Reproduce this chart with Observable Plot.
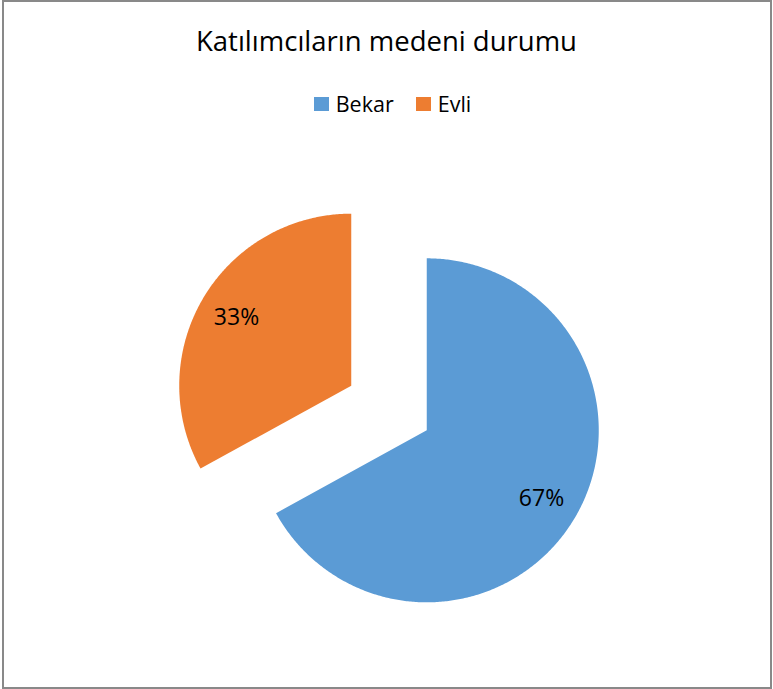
<!DOCTYPE html>
<html>
<head>
<meta charset="utf-8">
<script src="https://cdn.jsdelivr.net/npm/d3@7"></script>
<script src="https://cdn.jsdelivr.net/npm/@observablehq/plot@0.6"></script>
<style>
  html, body { margin: 0; padding: 0; background: #fff; }
  #chart { position: relative; width: 773px; height: 689px; font-family: "Open Sans", Lato, sans-serif; color: #000; }
  #frame { position: absolute; left: 2px; top: 0px; width: 770px; height: 689px; box-sizing: border-box; border: 2px solid #898989; pointer-events: none; }
  #title { position: absolute; left: 0; width: 773px; top: 27px; text-align: center; font-size: 27.5px; line-height: 27.5px; white-space: nowrap; }
  #legend { position: absolute; left: 6px; width: 773px; top: 93px; display: flex; justify-content: center; font-size: 21.5px; line-height: 21.5px; }
  .item { display: flex; align-items: center; margin: 0 11px; }
  .sw { width: 15px; height: 14px; margin-right: 7px; }
  svg { position: absolute; left: 0; top: 0; }
</style>
</head>
<body>
<div id="chart">
  <div id="title"></div>
  <div id="legend"></div>
  <div id="frame"></div>
</div>
<script>
// ---- data ----
const titleText = "Katılımcıların medeni durumu";
const categories = ["Bekar", "Evli"];
const values = [67, 33];
const colors = ["#5B9BD5", "#ED7D31"];

// ---- layout constants ----
const W = 773, H = 689;
const cx = 388.5, cy = 407.5, R = 172; // pixel center & radius
const explode = 0.255;   // fraction of radius
const labelR = 0.775;    // label distance (fraction of radius)

const data = categories.map((c, i) => ({category: c, value: values[i]}));
const total = d3.sum(values);
const arcs = d3.pie().sort(null).value(d => d.value)(data);

const pts = [];
const labels = [];
for (const a of arcs) {
  const mid = (a.startAngle + a.endAngle) / 2;
  const ox = explode * Math.sin(mid), oy = explode * Math.cos(mid);
  const cat = a.data.category;
  pts.push({category: cat, x: ox, y: oy});
  const n = Math.ceil((a.endAngle - a.startAngle) / (Math.PI / 360));
  for (let k = 0; k <= n; k++) {
    const t = a.startAngle + (a.endAngle - a.startAngle) * k / n;
    pts.push({category: cat, x: ox + Math.sin(t), y: oy + Math.cos(t)});
  }
  pts.push({category: cat, x: ox, y: oy});
  labels.push({
    category: cat,
    x: ox + labelR * Math.sin(mid),
    y: oy + labelR * Math.cos(mid),
    text: Math.round(a.data.value / total * 100) + "%"
  });
}

const plot = Plot.plot({
  width: W,
  height: H,
  margin: 0,
  x: {domain: [(0 - cx) / R, (W - cx) / R], axis: null},
  y: {domain: [(cy - H) / R, cy / R], axis: null},
  color: {domain: categories, range: colors},
  style: {fontFamily: "'Open Sans', Lato, sans-serif", background: "transparent"},
  marks: [
    Plot.line(pts, {x: "x", y: "y", z: "category", fill: "category", stroke: null, curve: "linear"}),
    Plot.text(labels, {x: "x", y: "y", text: "text", fontSize: 23, fill: "#000", textAnchor: "middle"})
  ]
});
document.getElementById("chart").insertBefore(plot, document.getElementById("title"));

document.getElementById("title").textContent = titleText;
const leg = document.getElementById("legend");
categories.forEach((c, i) => {
  const it = document.createElement("div");
  it.className = "item";
  const sw = document.createElement("span");
  sw.className = "sw";
  sw.style.background = colors[i];
  const tx = document.createElement("span");
  tx.textContent = c;
  it.appendChild(sw); it.appendChild(tx);
  leg.appendChild(it);
});
</script>
</body>
</html>
